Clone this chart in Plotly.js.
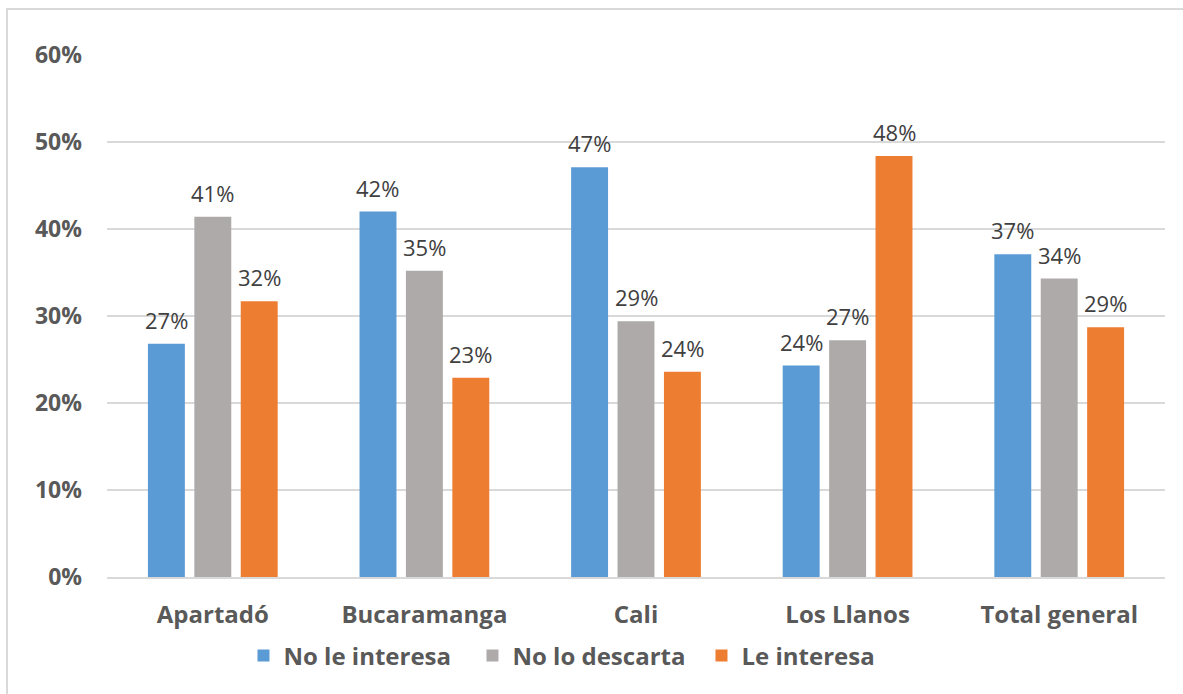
<!DOCTYPE html>
<html><head><meta charset="utf-8">
<script src="https://cdn.plot.ly/plotly-3.0.1.min.js"></script>
<style>
html,body{margin:0;padding:0;background:#fff;}
#frame{position:absolute;left:6px;top:8px;width:1190px;height:700px;border:2px solid #d9d9d9;box-sizing:border-box;}
#chart{position:absolute;left:0;top:0;width:1183px;height:694px;}
</style></head>
<body>
<div id="frame"></div>
<div id="chart"></div>
<script>
const categories = ["Apartadó","Bucaramanga","Cali","Los Llanos","Total general"];
const noLeInteresa = [0.268, 0.420, 0.471, 0.243, 0.371];
const noLoDescarta = [0.414, 0.352, 0.294, 0.272, 0.343];
const leInteresa   = [0.317, 0.229, 0.236, 0.484, 0.287];
const seriesNames = ["No le interesa","No lo descarta","Le interesa"];
const colors = ["#5B9BD5","#AEAAAA","#ED7D31"];
const font = "Segoe UI, 'Open Sans', 'Noto Sans', sans-serif";
const vals = [noLeInteresa, noLoDescarta, leInteresa];
const traces = vals.map((v,i)=>({
  type:'bar', x:categories, y:v, name:seriesNames[i],
  marker:{color:colors[i]}, hoverinfo:'skip'
}));
const shifts = [-46.5, 0, 46.5];
const annotations = [];
vals.forEach((v,i)=>v.forEach((y,j)=>annotations.push({
  x:categories[j], y:y, xref:'x', yref:'y', text:Math.round(y*100)+'%',
  showarrow:false, xshift:shifts[i], yshift:24, yanchor:'middle', xanchor:'center',
  font:{family:font,size:22,color:'#404040'}
})));
const layout = {
  width:1183, height:694,
  paper_bgcolor:'rgba(0,0,0,0)', plot_bgcolor:'rgba(0,0,0,0)',
  margin:{l:107,r:18,t:55,b:117},
  barmode:'group', bargap:0.342, bargroupgap:0.204,
  showlegend:true, annotations:annotations,
  legend:{orientation:'h', x:0.129, xanchor:'left', y:-0.151, yanchor:'middle',
    entrywidth:184, entrywidthmode:'pixels',
    font:{family:font,size:24,color:'#595959',weight:'bold'}, itemwidth:20, tracegroupgap:0},
  xaxis:{tickfont:{family:font,size:24,color:'#595959',weight:'bold'}, ticklabelstandoff:16,
    showline:true, linecolor:'#d9d9d9', linewidth:1.5, ticks:'', fixedrange:true},
  yaxis:{range:[0,0.6], dtick:0.1, tickformat:'.0%', showgrid:true, gridcolor:'#d9d9d9', gridwidth:1.5,
    zeroline:false, tickfont:{family:font,size:23,color:'#595959',weight:'bold'}, ticklabelstandoff:24, fixedrange:true}
};
Plotly.newPlot('chart', traces, layout, {displayModeBar:false, staticPlot:true});
</script>
</body></html>
